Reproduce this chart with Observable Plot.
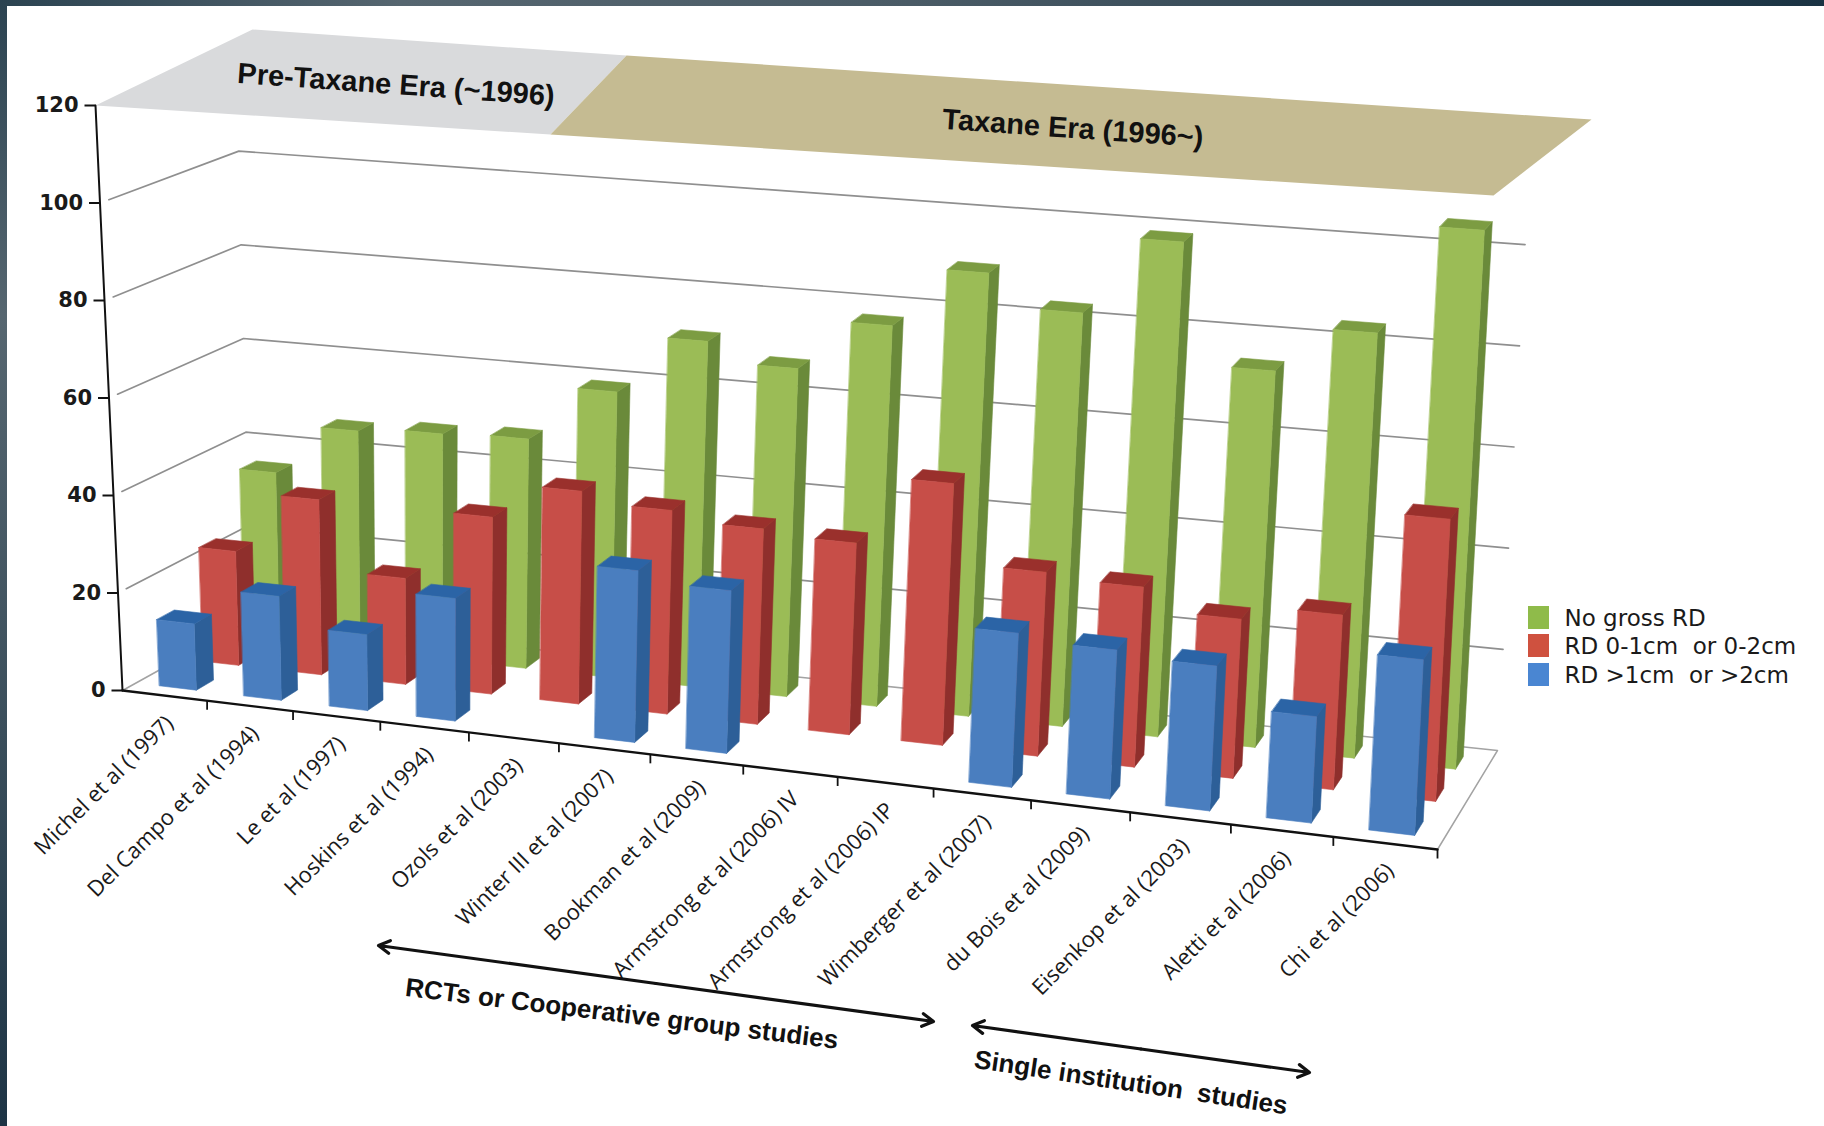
<!DOCTYPE html>
<html>
<head>
<meta charset="utf-8">
<script src="https://cdn.jsdelivr.net/npm/d3@7"></script>
<script src="https://cdn.jsdelivr.net/npm/@observablehq/plot@0.6"></script>
<style>
  html, body { margin: 0; padding: 0; background: #fff; overflow: hidden; }
  #frame-top { position: absolute; left: 0; top: 0; width: 1824px; height: 6px; z-index: 2;
    background: linear-gradient(to right, #2b4351 0%, #566670 22%, #4a5b66 50%, #1a3343 100%); }
  #frame-left { position: absolute; left: 0; top: 0; width: 7px; height: 1126px; z-index: 2;
    background: linear-gradient(to bottom, #2b4351 0%, #566670 28%, #3a4e5b 65%, #1d3445 100%); }
  #chart { position: absolute; left: 0; top: 0; }
</style>
</head>
<body>
<div id="frame-top"></div>
<div id="frame-left"></div>
<div id="chart"></div>
<script>
// Residual disease and survival: studies in plotting order
const studies = [
  "Michel et al (1997)", "Del Campo et al (1994)", "Le et al (1997)", "Hoskins et al (1994)",
  "Ozols et al (2003)", "Winter III et al (2007)", "Bookman et al (2009)", "Armstrong et al (2006) IV",
  "Armstrong et al (2006) IP", "Wimberger et al (2007)", "du Bois et al (2009)", "Eisenkop et al (2003)",
  "Aletti et al (2006)", "Chi et al (2006)"
];
const noGrossRD = [35.6, 46, 47, 47.6, 59, 71, 67, 77.3, 89.5, 83, 98.7, 74.6, 83.7, 105.4];
const rdSmall   = [23.7, 36.2, 21.8, 36.2, 43.3, 41.2, 39.3, 38.3, 52, 36.3, 35.3, 31, 33.8, 54.2];
const rdLarge   = [13.6, 21.2, 15.4, 24.7, null, 34.2, 32.2, null, null, 29.9, 28.7, 27.7, 20.2, 33.1];

const valueTicks = [0, 20, 40, 60, 80, 100, 120];
const gridValues = [20, 40, 60, 80, 100];
const legendLabels = ["No gross RD", "RD 0-1cm\u00a0 or 0-2cm", "RD >1cm\u00a0 or >2cm"];

// Series from the back of the box to the front, with face colours
const series = [
  {values: noGrossRD, slot: 2, front: "#9bbc56", side: "#6a8a3a", top: "#7c9c42", key: "#8fbb4a"},
  {values: rdSmall,   slot: 1, front: "#c74e48", side: "#8f2f2c", top: "#9a302c", key: "#cf513f"},
  {values: rdLarge,   slot: 0, front: "#4a7ebf", side: "#2d5f98", top: "#2b64a6", key: "#4a86d2"}
];

// Corners of the 3D box on the page: floor and the plane at the top of the value range
const floorCorners = [[122, 690], [1437, 849], [1497, 750], [250, 619]];
const topCorners   = [[95, 105], [1468, 207], [1530, 143], [236, 57]];
const valueMax = 120;

function homography([[x0, y0], [x1, y1], [x2, y2], [x3, y3]]) {
  const dx1 = x1 - x2, dx2 = x3 - x2, sx = x0 - x1 + x2 - x3;
  const dy1 = y1 - y2, dy2 = y3 - y2, sy = y0 - y1 + y2 - y3;
  const den = dx1 * dy2 - dx2 * dy1;
  const g = (sx * dy2 - dx2 * sy) / den, h = (dx1 * sy - sx * dy1) / den;
  const a = x1 - x0 + g * x1, b = x3 - x0 + h * x3;
  const d = y1 - y0 + g * y1, e = y3 - y0 + h * y3;
  return (u, w) => {
    const q = g * u + h * w + 1;
    return [(a * u + b * w + x0) / q, (d * u + e * w + y0) / q];
  };
}
const onFloor = homography(floorCorners), onTop = homography(topCorners);

// Study position (0..14), depth (0..1, front to back), value -> page position
function project(pos, depth, value) {
  const p = pos / studies.length;
  const stretch = 1.115 - 0.045 * depth;
  const u = stretch * p / (1 + (stretch - 1) * p);
  const t = value / valueMax;
  const [fx, fy] = onFloor(u, depth), [tx, ty] = onTop(u, depth);
  return {x: fx + (tx - fx) * t, y: fy + (ty - fy) * t};
}

// Three visible faces of every bar
const barWidth = 0.44, barDepth = 0.4;
const faces = [];
let faceId = 0;
function face(color, corners) {
  const id = faceId++;
  for (const c of corners) faces.push({id, color, ...project(...c)});
}
for (const s of series) {
  s.values.forEach((v, i) => {
    if (v == null) return;
    const u0 = i + (1 - barWidth) / 2, u1 = u0 + barWidth;
    const w0 = (s.slot + (1 - barDepth) / 2) / 3, w1 = w0 + barDepth / 3;
    face(s.side, [[u1, w0, 0], [u1, w1, 0], [u1, w1, v], [u1, w0, v]]);
    face(s.top, [[u0, w0, v], [u1, w0, v], [u1, w1, v], [u0, w1, v]]);
    face(s.front, [[u0, w0, 0], [u1, w0, 0], [u1, w0, v], [u0, w0, v]]);
  });
}

// Walls: gridlines run along the left wall, then the back wall
const n = studies.length;
const gridPaths = gridValues.flatMap((v) => [
  {v, ...project(0, 0.06, v)}, {v, ...project(0, 1, v)}, {v, ...project(n, 1, v)}
]);
const floorOutline = [project(0, 0, 0), project(0, 1, 0), project(n, 1, 0), project(n, 0, 0)];
const frontEdge = [project(0, 0, 0), project(n, 0, 0)];
const valueAxis = [project(0, 0, 0), project(0, 0, valueMax)];

// Era bands above the chart and the study-type brackets below it
const preTaxaneBand = [[95, 105], [252, 29], [626, 55], [550, 134]];
const taxaneBand = [[626, 55], [1591, 119], [1493, 195], [550, 134]];
const eraLabels = [
  {text: "Pre-Taxane Era (~1996)", x: 237, y: 73, angle: 4.1},
  {text: "Taxane Era (1996~)", x: 942, y: 119, angle: 4}
];
const studyArrows = [
  {from: [378, 945], to: [933, 1021]},
  {from: [972, 1025], to: [1309, 1072]}
];
const arrowHalves = studyArrows.flatMap(({from, to}) => {
  const mid = [(from[0] + to[0]) / 2, (from[1] + to[1]) / 2];
  return [{from: mid, to: from}, {from: mid, to}];
});
const groupLabels = [
  {text: "RCTs or Cooperative group studies", x: 405, y: 987, angle: 7},
  {text: "Single institution\u00a0 studies", x: 974, y: 1059, angle: 8.5}
];
const legendTop = [606, 634, 663];

const toPoints = (corners) => corners.map(([x, y]) => ({x, y}));
const sans = "'Liberation Sans', Arial, sans-serif";
const labelFont = "'Open Sans', sans-serif";
const tickFont = "'DejaVu Sans', sans-serif";

const plot = Plot.plot({
  width: 1824,
  height: 1126,
  margin: 0,
  x: {domain: [0, 1824], range: [0, 1824], axis: null},
  y: {domain: [0, 1126], range: [0, 1126], axis: null},
  style: {background: "transparent"},
  marks: [
    // Era bands
    Plot.line(toPoints(preTaxaneBand), {x: "x", y: "y", fill: "#d9dadc", curve: "linear-closed"}),
    Plot.line(toPoints(taxaneBand), {x: "x", y: "y", fill: "#c5bb92", curve: "linear-closed"}),
    ...eraLabels.map((d) => Plot.text([d], {
      x: "x", y: "y", text: "text", rotate: d.angle, textAnchor: "start",
      fontFamily: sans, fontWeight: "bold", fontSize: 29, fill: "#111"
    })),

    // Walls and floor
    Plot.line(gridPaths, {x: "x", y: "y", z: "v", stroke: "#8f8f8f", strokeWidth: 1.7}),
    Plot.line(floorOutline, {x: "x", y: "y", stroke: "#a3a3a3", strokeWidth: 1.5}),

    // Bars
    Plot.line(faces, {
      x: "x", y: "y", z: "id", fill: "color", stroke: "color",
      strokeWidth: 0.6, curve: "linear-closed"
    }),

    // Value axis
    Plot.line(valueAxis, {x: "x", y: "y", stroke: "#111", strokeWidth: 2}),
    Plot.link(valueTicks, {
      x1: (v) => project(0, 0, v).x, y1: (v) => project(0, 0, v).y,
      x2: (v) => project(0, 0, v).x - 11, y2: (v) => project(0, 0, v).y,
      stroke: "#111", strokeWidth: 2
    }),
    Plot.text(valueTicks, {
      x: (v) => project(0, 0, v).x - 17, y: (v) => project(0, 0, v).y,
      text: String, textAnchor: "end", fontFamily: tickFont, fontWeight: "bold",
      fontSize: 21, fill: "#1a1a1a"
    }),

    // Study axis
    Plot.line(frontEdge, {x: "x", y: "y", stroke: "#111", strokeWidth: 2.4}),
    Plot.link(d3.range(1, n + 1), {
      x1: (i) => project(i, 0, 0).x, y1: (i) => project(i, 0, 0).y,
      x2: (i) => project(i, 0, 0).x, y2: (i) => project(i, 0, 0).y + 9,
      stroke: "#111", strokeWidth: 1.8
    }),
    Plot.text(studies, {
      x: (d, i) => project(i + 0.5, 0, 0).x + 5,
      y: (d, i) => project(i + 0.5, 0, 0).y + 24,
      text: String, rotate: -45, textAnchor: "end", lineAnchor: "middle",
      fontFamily: labelFont, fontSize: 22, fill: "#1a1a1a"
    }),

    // Study-type brackets
    Plot.arrow(arrowHalves, {
      x1: (d) => d.from[0], y1: (d) => d.from[1], x2: (d) => d.to[0], y2: (d) => d.to[1],
      stroke: "#111", strokeWidth: 3.2, headLength: 6
    }),
    ...groupLabels.map((d) => Plot.text([d], {
      x: "x", y: "y", text: "text", rotate: d.angle, textAnchor: "start",
      fontFamily: sans, fontWeight: "bold", fontSize: 26, fill: "#111"
    })),

    // Legend
    Plot.rect(series, {
      x1: () => 1528, x2: () => 1549,
      y1: (d, i) => legendTop[i], y2: (d, i) => legendTop[i] + 23,
      fill: "key"
    }),
    Plot.text(legendLabels, {
      x: () => 1564, y: (d, i) => legendTop[i] + 12,
      text: String, textAnchor: "start", fontFamily: tickFont, fontSize: 23, fill: "#1a1a1a"
    })
  ]
});
document.getElementById("chart").append(plot);
</script>
</body>
</html>
